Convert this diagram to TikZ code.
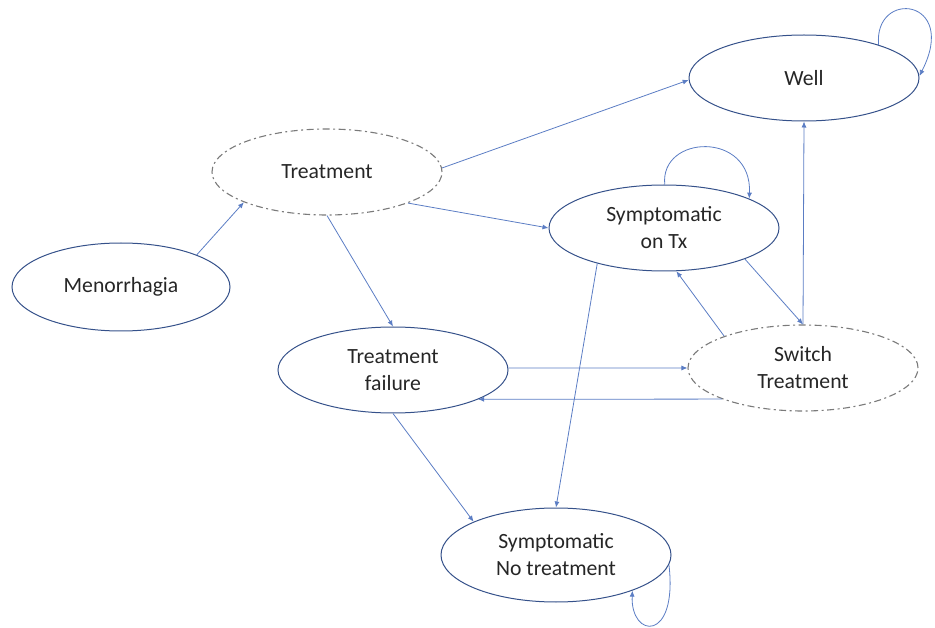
\documentclass[tikz,border=0pt]{standalone}
\usepackage{fontspec}
\setmainfont{Carlito}
\usetikzlibrary{shapes.geometric,arrows.meta}
\definecolor{edgeblue}{HTML}{5B7DC4}
\definecolor{ellblue}{HTML}{35518A}
\definecolor{dashgray}{HTML}{7A7A7A}
\definecolor{txt}{HTML}{262626}
\begin{document}
\begin{tikzpicture}[x=1pt,y=-1pt,
  state/.style={ellipse, draw=ellblue, line width=1pt, minimum width=230pt, minimum height=86pt,
    inner sep=0pt, align=center, text=txt, font=\fontsize{21.7}{27}\selectfont},
  dstate/.style={state, draw=dashgray, line width=1.1pt, dash pattern=on 7pt off 3.5pt on 2pt off 3.5pt},
  edge/.style={draw=edgeblue, line width=0.8pt, -{Latex[length=6pt,width=5pt]}}
]
\useasboundingbox (0,0) rectangle (935,628);
\node[state, minimum width=218pt, minimum height=88pt] (men) at (121,287) {Menorrhagia};
\node[dstate] (treat) at (327,172) {Treatment};
\node[state] (well) at (804,78) {Well};
\node[state] (sot) at (664,228) {Symptomatic\\on Tx};
\node[state] (tf) at (393,370) {Treatment\\failure};
\node[dstate] (sw) at (803,368) {Switch\\Treatment};
\node[state, minimum height=94pt] (snt) at (556,555) {Symptomatic\\No treatment};

\draw[edge] (men.23) -- (treat.200);
\draw[edge] (treat.2) -- (well.181);
\draw[edge] (treat.339) -- (sot.180);
\draw[edge] (treat.south) -- (tf.north);
\draw[edge] (sot.208) -- (snt.north);
\draw[edge] (sot.339.6) -- (sw.north);
\draw[edge] (sw.158) -- (sot.286);
\draw[edge] (sw.north) -- (well.south);
\draw[edge] (tf.1) -- (sw.180);
\draw[edge] (sw.201) -- (tf.341);
\draw[edge] (tf.south) -- (snt.158);

% self loops
\draw[edge] (sot.89) .. controls +(-5,-50) and +(3,-68) .. (sot.19);
\draw[edge] (well.24.5) .. controls +(-5,-56) and +(40,-78) .. (well.1.5);
\draw[edge] (snt.-5) .. controls +(9,78) and +(-2,48) .. (snt.-25);
\end{tikzpicture}
\end{document}
